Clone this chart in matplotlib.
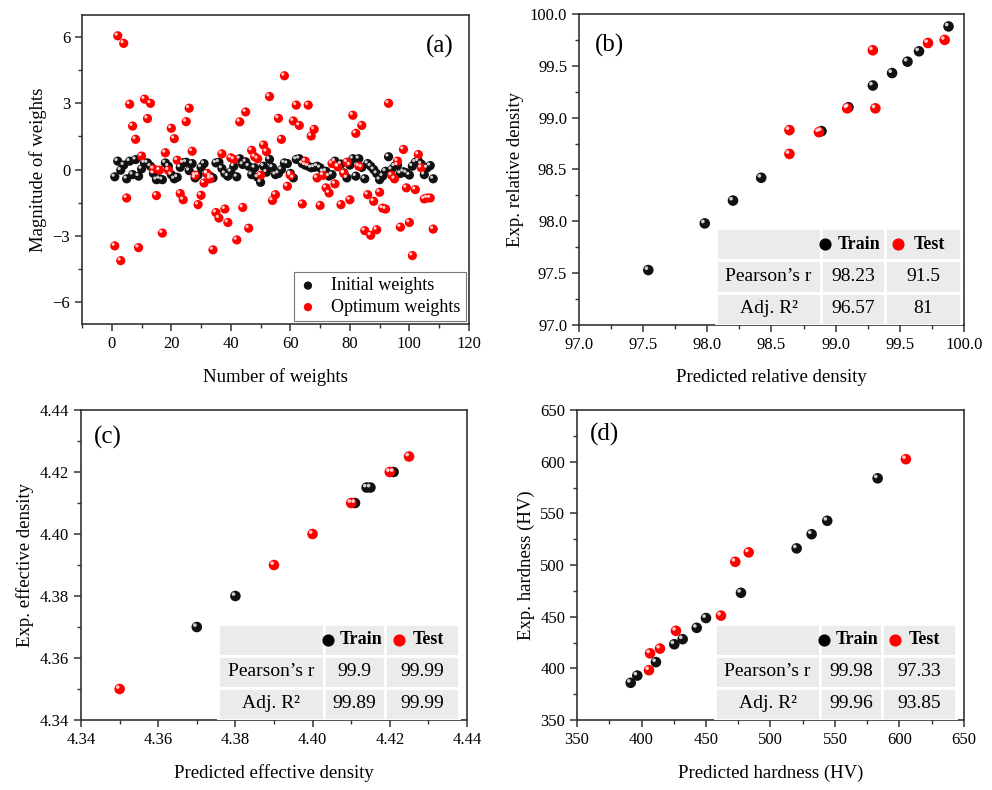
import matplotlib.pyplot as plt
import numpy as np
from matplotlib.patches import Rectangle
from matplotlib.transforms import offset_copy
from matplotlib.ticker import MultipleLocator, FormatStrFormatter

plt.rcParams['font.family'] = ['Liberation Serif', 'DejaVu Serif']

# (a) weights
initial_w = [-0.33, 0.38, -0.03, 0.20, -0.42, 0.38, -0.23, 0.45, -0.30, 0.03,
             0.30, 0.30, 0.15, -0.18, -0.46, -0.42, -0.46, 0.30, 0.15, -0.23,
             -0.42, -0.35, 0.10, 0.30, 0.33, -0.05, 0.27, -0.38, -0.25, 0.10,
             0.27, -0.18, -0.30, -0.38, 0.30, 0.33, 0.05, -0.18, -0.30, -0.10,
             0.15, -0.33, 0.49, 0.23, 0.35, 0.15, -0.23, 0.08, -0.35, -0.58,
             0.15, -0.12, 0.46, 0.10, -0.23, -0.18, 0.00, 0.30, 0.27, -0.18,
             -0.38, 0.46, 0.49, 0.27, 0.20, 0.15, 0.08, 0.10, 0.15, 0.08,
             -0.10, -0.08, -0.30, -0.23, 0.38, 0.15, 0.25, -0.15, -0.38, 0.20,
             0.49, -0.30, 0.49, 0.10, -0.42, 0.27, 0.15, 0.00, -0.18, -0.46,
             -0.30, -0.08, 0.58, 0.00, 0.15, 0.20, -0.18, -0.10, -0.15, -0.25,
             0.15, 0.33, 0.38, 0.25, -0.23, 0.08, 0.18, -0.42]
optimum_w = [-3.46, 6.06, -4.13, 5.72, -1.29, 2.96, 1.97, 1.37, -3.54, 0.61,
             3.19, 2.31, 3.00, 0.03, -1.18, -0.03, -2.88, 0.76, -0.03, 1.87,
             1.40, 0.42, -1.09, -1.37, 2.17, 2.78, 0.83, -0.26, -1.59, -1.17,
             -0.61, -0.18, -0.42, -3.64, -1.95, -2.20, 0.71, -1.79, -2.40, 0.53,
             0.46, -3.19, 2.16, -1.72, 2.61, -2.66, 0.87, 0.58, 0.49, -0.26,
             1.11, 0.81, 3.31, -1.40, -1.14, 2.32, 1.37, 4.25, -0.76, -0.26,
             2.20, 2.92, 2.00, -1.56, 0.38, 2.92, 1.52, 1.82, -0.38, -1.63,
             -0.26, -0.83, -1.06, 0.27, -0.65, 0.12, -1.59, -0.18, 0.33, -1.37,
             2.46, 1.64, 0.15, 2.00, -2.77, -1.14, -2.98, -1.44, -2.73, -1.03,
             -1.75, -1.79, 3.00, -0.26, -0.42, 0.38, -2.61, 0.91, -0.83, -2.40,
             -3.90, -0.91, 0.68, 0.08, -1.33, -1.29, -1.29, -2.70]
weight_no = np.arange(1, len(optimum_w) + 1)

# (b) relative density
rd_train_pred = [97.54, 97.98, 98.20, 98.42, 98.89, 99.10, 99.29, 99.44, 99.56, 99.65, 99.88]
rd_train_exp = [97.53, 97.98, 98.20, 98.42, 98.87, 99.10, 99.31, 99.43, 99.54, 99.64, 99.88]
rd_test_pred = [98.64, 98.64, 98.87, 99.09, 99.29, 99.31, 99.72, 99.85]
rd_test_exp = [98.88, 98.65, 98.86, 99.09, 99.65, 99.09, 99.72, 99.75]

# (c) effective density
ed_train_pred = [4.370, 4.380, 4.411, 4.414, 4.415, 4.421]
ed_train_exp = [4.370, 4.380, 4.410, 4.415, 4.415, 4.420]
ed_test_pred = [4.350, 4.390, 4.400, 4.410, 4.420, 4.425]
ed_test_exp = [4.350, 4.390, 4.400, 4.410, 4.420, 4.425]

# (d) hardness
hv_train_pred = [391.6, 396.7, 411.2, 425.4, 431.9, 442.8, 450.0, 477.1, 520.3, 531.9, 544.0, 583.1]
hv_train_exp = [386.0, 393.0, 406.0, 423.3, 428.2, 439.2, 448.7, 473.1, 516.1, 529.8, 542.8, 583.9]
hv_test_pred = [405.8, 406.6, 414.3, 426.7, 461.6, 472.7, 483.1, 605.0]
hv_test_exp = [398.2, 414.5, 419.1, 436.3, 451.0, 503.1, 512.2, 602.4]

stats_b = [['98.23', '91.5'], ['96.57', '81']]
stats_c = [['99.9', '99.99'], ['99.89', '99.99']]
stats_d = [['99.98', '97.33'], ['99.96', '93.85']]
row_names = ['Pearson\u2019s r', 'Adj. R\u00b2']

fig = plt.figure(figsize=(9.92, 7.9), dpi=100)
ax_a = fig.add_axes([0.0827, 0.5899, 0.390, 0.391])
ax_b = fig.add_axes([0.5837, 0.5886, 0.388, 0.3937])
ax_c = fig.add_axes([0.0817, 0.0886, 0.389, 0.3924])
ax_d = fig.add_axes([0.5817, 0.0886, 0.390, 0.3924])


def balls(ax, x, y, color, s, label=None):
    ax.scatter(x, y, s=s, c=color, edgecolors='none', zorder=3, label=label)
    d = np.sqrt(s) * 0.18
    tr = offset_copy(ax.transData, fig=ax.figure, x=-d, y=d, units='points')
    ax.scatter(x, y, s=s * 0.12, c='white', alpha=0.8, edgecolors='none',
               zorder=4, transform=tr)


def style(ax):
    for sp in ax.spines.values():
        sp.set_color('#333333')
        sp.set_linewidth(1.2)
    ax.tick_params(which='major', direction='out', length=5, width=1.1,
                   labelsize=12, color='#333333')
    ax.tick_params(which='minor', direction='out', length=3, width=1.0,
                   color='#333333')


def stat_table(ax, stats, left, widths, height):
    rh = height / 3
    xs = [left, left + widths[0], left + widths[0] + widths[1]]
    for r in range(3):
        for c in range(3):
            ax.add_patch(Rectangle((xs[c], height - (r + 1) * rh), widths[c], rh,
                                   transform=ax.transAxes, facecolor='#ebebeb',
                                   edgecolor='white', lw=2, zorder=5))
    yh = height - rh / 2
    ax.scatter([xs[1] + 0.01], [yh], s=60, c='black', transform=ax.transAxes,
               zorder=6, clip_on=False)
    ax.text(xs[1] + widths[1] * 0.6, yh, 'Train', transform=ax.transAxes,
            ha='center', va='center', fontsize=13, fontweight='bold', zorder=6)
    ax.scatter([xs[2] + 0.035], [yh], s=60, c='red', transform=ax.transAxes,
               zorder=6, clip_on=False)
    ax.text(xs[2] + widths[2] * 0.58, yh, 'Test', transform=ax.transAxes,
            ha='center', va='center', fontsize=13, fontweight='bold', zorder=6)
    for r in range(2):
        yc = height - (r + 1.5) * rh
        ax.text(xs[0] + widths[0] / 2, yc, row_names[r], transform=ax.transAxes,
                ha='center', va='center', fontsize=14, zorder=6)
        for c in range(2):
            ax.text(xs[c + 1] + widths[c + 1] / 2, yc, stats[r][c],
                    transform=ax.transAxes, ha='center', va='center',
                    fontsize=14, zorder=6)


# (a)
balls(ax_a, weight_no, initial_w, '#111111', 44, 'Initial weights')
balls(ax_a, weight_no, optimum_w, 'red', 44, 'Optimum weights')
ax_a.set_xlim(-10, 120)
ax_a.set_ylim(-7, 7)
ax_a.xaxis.set_major_locator(MultipleLocator(20))
ax_a.xaxis.set_minor_locator(MultipleLocator(10))
ax_a.yaxis.set_major_locator(MultipleLocator(3))
ax_a.yaxis.set_minor_locator(MultipleLocator(1.5))
ax_a.set_xlabel('Number of weights', fontsize=13.5, labelpad=12)
ax_a.set_ylabel('Magnitude of weights', fontsize=13.5)
leg = ax_a.legend(loc='lower right', fontsize=13, frameon=True, fancybox=False,
                  edgecolor='#555555', borderaxespad=0.15, handletextpad=0.8,
                  borderpad=0.3, labelspacing=0.25, handlelength=1.0,
                  markerscale=0.9)
leg.get_frame().set_linewidth(0.8)
ax_a.text(0.925, 0.90, '(a)', transform=ax_a.transAxes, fontsize=18,
          ha='center', va='center')
style(ax_a)

# (b)
balls(ax_b, rd_train_pred, rd_train_exp, '#111111', 58)
balls(ax_b, rd_test_pred, rd_test_exp, 'red', 58)
ax_b.set_xlim(97, 100)
ax_b.set_ylim(97, 100)
for axis in (ax_b.xaxis, ax_b.yaxis):
    axis.set_major_locator(MultipleLocator(0.5))
    axis.set_minor_locator(MultipleLocator(0.25))
    axis.set_major_formatter(FormatStrFormatter('%.1f'))
ax_b.set_xlabel('Predicted relative density', fontsize=13.5, labelpad=12)
ax_b.set_ylabel('Exp. relative density', fontsize=13.5)
ax_b.text(0.08, 0.90, '(b)', transform=ax_b.transAxes, fontsize=18,
          ha='center', va='center')
stat_table(ax_b, stats_b, 0.356, [0.273, 0.166, 0.197], 0.312)
style(ax_b)

# (c)
balls(ax_c, ed_train_pred, ed_train_exp, '#111111', 58)
balls(ax_c, ed_test_pred, ed_test_exp, 'red', 58)
ax_c.set_xlim(4.34, 4.44)
ax_c.set_ylim(4.34, 4.44)
for axis in (ax_c.xaxis, ax_c.yaxis):
    axis.set_major_locator(MultipleLocator(0.02))
    axis.set_minor_locator(MultipleLocator(0.01))
    axis.set_major_formatter(FormatStrFormatter('%.2f'))
ax_c.set_xlabel('Predicted effective density', fontsize=13.5, labelpad=12)
ax_c.set_ylabel('Exp. effective density', fontsize=13.5)
ax_c.text(0.07, 0.91, '(c)', transform=ax_c.transAxes, fontsize=18,
          ha='center', va='center')
stat_table(ax_c, stats_c, 0.355, [0.275, 0.158, 0.192], 0.31)
style(ax_c)

# (d)
balls(ax_d, hv_train_pred, hv_train_exp, '#111111', 58)
balls(ax_d, hv_test_pred, hv_test_exp, 'red', 58)
ax_d.set_xlim(350, 650)
ax_d.set_ylim(350, 650)
for axis in (ax_d.xaxis, ax_d.yaxis):
    axis.set_major_locator(MultipleLocator(50))
    axis.set_minor_locator(MultipleLocator(25))
ax_d.set_xlabel('Predicted hardness (HV)', fontsize=13.5, labelpad=12)
ax_d.set_ylabel('Exp. hardness (HV)', fontsize=13.5)
ax_d.text(0.072, 0.92, '(d)', transform=ax_d.transAxes, fontsize=18,
          ha='center', va='center')
stat_table(ax_d, stats_d, 0.357, [0.271, 0.160, 0.191], 0.31)
style(ax_d)

plt.savefig('out.png', dpi=100)
